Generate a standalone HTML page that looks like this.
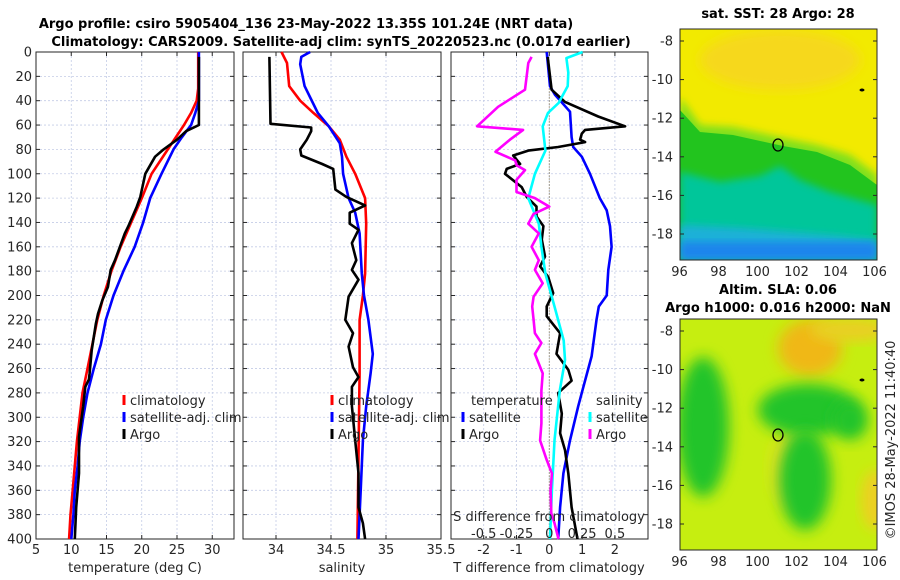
<!DOCTYPE html>
<html><head><meta charset="utf-8">
<style>
html,body{margin:0;padding:0;background:#fff;}
svg{display:block;font-family:"DejaVu Sans","Liberation Sans",sans-serif;}
.t{font-size:13px;fill:#262626;}
.b{font-size:13px;font-weight:bold;fill:#000;}
</style></head>
<body>
<svg id="fig" width="900" height="580" viewBox="0 0 900 580" xmlns="http://www.w3.org/2000/svg">
<defs>
<filter id="blur" x="-20%" y="-20%" width="140%" height="140%"><feGaussianBlur stdDeviation="6"/></filter>
<filter id="blur2" x="-20%" y="-20%" width="140%" height="140%"><feGaussianBlur stdDeviation="4"/></filter>
<filter id="blur3" x="-30%" y="-30%" width="160%" height="160%"><feGaussianBlur stdDeviation="7"/></filter>
<clipPath id="clipTop"><rect x="680" y="29" width="197" height="231"/></clipPath>
<clipPath id="clipBot"><rect x="680" y="319" width="197" height="231"/></clipPath>
</defs>
<text class="b" x="306" y="28" text-anchor="middle">Argo profile: csiro 5905404_136 23-May-2022 13.35S 101.24E (NRT data)</text>
<text class="b" x="341" y="46" text-anchor="middle">Climatology: CARS2009. Satellite-adj clim: synTS_20220523.nc (0.017d earlier)</text>

<!-- SST map -->
<g clip-path="url(#clipTop)">
<rect x="680" y="29" width="197" height="231" fill="#f2ea00"/>
<ellipse cx="780" cy="60" rx="80" ry="30" fill="#f6d81a" filter="url(#blur)"/>
<path d="M680 97 L700 125 L733 127 L783 138 L817 145 L850 155 L877 175 L877 260 L680 260 Z" fill="#7ee01a" filter="url(#blur2)"/>
<path d="M680 110 L700 132 L733 135 L783 146 L817 152 L850 165 L877 185 L877 260 L680 260 Z" fill="#22c41e"/>
<path d="M680 172 L720 182 L760 176 L780 166 L800 180 L830 192 L877 205 L877 260 L680 260 Z" fill="#06c69a" filter="url(#blur2)"/>
<path d="M680 225 L740 228 L790 232 L840 236 L877 240 L877 260 L680 260 Z" fill="#1ab0d8" filter="url(#blur2)"/>
<rect x="680" y="242" width="197" height="18" fill="#1c7ef0" opacity="0.85" filter="url(#blur2)"/>
<ellipse cx="778" cy="145" rx="5" ry="6" fill="none" stroke="#000" stroke-width="1.3"/>
<ellipse cx="862" cy="90" rx="2.5" ry="1.5" fill="#000"/>
</g>
<rect x="680" y="29" width="197" height="231" fill="none" stroke="#262626" stroke-width="1"/>
<text class="b" x="778" y="18" text-anchor="middle">sat. SST: 28 Argo: 28</text>

<!-- SLA map -->
<g clip-path="url(#clipBot)">
<rect x="680" y="319" width="197" height="231" fill="#c6ee10"/>
<ellipse cx="810" cy="348" rx="32" ry="28" fill="#f0b818" filter="url(#blur3)"/>
<ellipse cx="850" cy="330" rx="40" ry="12" fill="#e8d020" filter="url(#blur)"/>
<ellipse cx="875" cy="500" rx="14" ry="30" fill="#ecd020" filter="url(#blur)"/>
<ellipse cx="790" cy="470" rx="20" ry="40" fill="#e6e020" filter="url(#blur)"/>
<ellipse cx="703" cy="427" rx="26" ry="70" fill="#22c42c" filter="url(#blur3)"/>
<ellipse cx="808" cy="410" rx="50" ry="26" fill="#22c42c" filter="url(#blur3)"/>
<ellipse cx="805" cy="480" rx="26" ry="50" fill="#22c42c" filter="url(#blur3)"/>
<ellipse cx="850" cy="420" rx="18" ry="20" fill="#22c42c" filter="url(#blur3)"/>
<ellipse cx="778" cy="435" rx="5" ry="6" fill="none" stroke="#000" stroke-width="1.3"/>
<ellipse cx="862" cy="380" rx="2.5" ry="1.5" fill="#000"/>
</g>
<rect x="680" y="319" width="197" height="231" fill="none" stroke="#262626" stroke-width="1"/>
<text class="b" x="778" y="294" text-anchor="middle">Altim. SLA: 0.06</text>
<text class="b" x="778" y="312" text-anchor="middle">Argo h1000: 0.016 h2000: NaN</text>
<text class="t" x="0" y="0" transform="translate(895,440) rotate(-90)" text-anchor="middle">©IMOS 28-May-2022 11:40:40</text>

<g id="dyn"></g>
</svg>
<script>
// ---- data ----
const depthTicks=[0,20,40,60,80,100,120,140,160,180,200,220,240,260,280,300,320,340,360,380,400];
const tTicks=[5,10,15,20,25,30];
const sTicks=[34,34.5,35,35.5];
const tdTicks=[-2,-1,0,1,2];
const sdTicks=[-0.5,-0.25,0,0.25,0.5];
const sdTickLabels=["-0.5","-0.25","0","0.25","0.5"];
const latTicks=[-8,-10,-12,-14,-16,-18];
const lonTicks=[96,98,100,102,104,106];

const climTDepth=[0,30,40,50,60,80,100,120,140,160,180,200,220,240,260,280,300,320,340,360,380,400];
const climT=[28.0,28.0,27.8,27.0,26.0,23.7,21.4,20.0,18.5,17.0,15.7,14.6,13.7,13.0,12.3,11.6,11.2,10.8,10.5,10.2,9.9,9.7];
const satTDepth=[0,40,50,60,70,80,100,120,140,160,180,200,220,240,260,280,300,320,340,360,380,400];
const satT=[28.1,28.1,27.6,27.0,25.7,24.5,22.8,21.2,20.2,19.0,17.4,16.0,14.9,14.2,13.2,12.3,11.7,11.2,10.9,10.5,10.3,10.0];
const argoTDepth=[4,40,60,65,72,80,86,93,100,119,127,143,149,160,171,179,193,204,215,223,245,264,269,275,291,316,346,374,400];
const argoT=[28.1,28.1,28.1,26.3,25.0,23.1,21.9,21.2,20.5,19.8,19.3,18.1,17.6,16.9,16.2,15.6,15.2,14.4,13.8,13.5,12.9,12.6,12.5,12.0,11.7,11.1,11.1,10.7,10.5];

const climSDepth=[0,9,28,40,50,61,72,86,100,120,141,182,200,220,264,400];
const climS=[34.05,34.10,34.12,34.22,34.34,34.48,34.58,34.64,34.72,34.81,34.82,34.81,34.79,34.76,34.76,34.74];
const satSDepth=[0,4,10,28,39,50,61,75,86,100,120,132,149,182,200,220,248,264,291,319,360,400];
const satS=[34.31,34.23,34.22,34.26,34.32,34.38,34.48,34.58,34.60,34.61,34.66,34.72,34.76,34.78,34.80,34.84,34.88,34.86,34.82,34.79,34.77,34.75];
const argoSDepth=[4,59,62,65,72,80,85,92,96,113,119,126,132,141,146,157,171,179,187,201,220,231,242,259,267,275,291,319,346,374,387,400];
const argoS=[33.94,33.95,34.32,34.32,34.28,34.22,34.23,34.42,34.52,34.54,34.64,34.81,34.67,34.67,34.75,34.69,34.73,34.69,34.75,34.66,34.63,34.70,34.66,34.70,34.75,34.69,34.69,34.72,34.75,34.75,34.79,34.81];

const satTdDepth=[0,28,35,49,70,78,86,100,120,130,143,160,179,200,209,220,250,275,291,319,346,374,400];
const satTd=[-0.08,0.02,0.17,0.63,0.68,0.73,0.99,1.24,1.54,1.75,1.85,1.90,1.80,1.75,1.51,1.44,1.29,1.04,0.88,0.63,0.43,0.33,0.27];
const argoTdDepth=[4,31,41,53,61,64,67,72,74,78,81,85,92,96,100,111,119,127,135,143,154,168,176,185,198,209,217,231,248,261,270,280,297,313,327,346,374,400];
const argoTd=[-0.05,0.07,0.48,1.49,2.31,1.09,0.99,0.94,1.09,0.27,-0.64,-1.1,-0.89,-1.3,-1.35,-0.84,-0.69,-0.39,-0.39,-0.18,-0.23,-0.13,-0.28,-0.03,0.12,-0.08,-0.08,0.33,0.22,0.58,0.68,0.27,0.38,0.33,0.48,0.58,0.68,0.86];
const satSdDepth=[0,5,17,28,42,50,61,81,100,120,141,160,182,209,237,253,278,319,360,400];
const satSd=[0.254,0.13,0.145,0.14,0.07,-0.01,-0.05,-0.03,-0.11,-0.16,-0.08,-0.06,-0.03,0.04,0.11,0.12,0.08,0.04,0.02,0.005];
const argoSdDepth=[4,9,31,45,61,64,72,82,89,93,97,105,115,120,127,133,141,149,160,171,179,190,201,209,220,231,239,248,264,278,291,305,319,335,346,360,379,387,400];
const argoSd=[-0.135,-0.16,-0.185,-0.39,-0.55,-0.2,-0.30,-0.41,-0.26,-0.25,-0.185,-0.25,-0.25,-0.11,0,-0.12,-0.16,-0.08,-0.135,-0.08,-0.11,-0.05,-0.12,-0.13,-0.12,-0.11,-0.06,-0.11,-0.05,-0.06,-0.06,-0.06,-0.07,-0.02,0.02,0.01,0.015,0.04,0.07];

// ---- geometry ----
const TOP=52, BOT=539;
const P1={l:36,r:234}, P2={l:243,r:441}, P3={l:451,r:648};
const yD=d=>TOP+(d/400)*(BOT-TOP);
const xT=v=>P1.l+(v-5)*7.05;
const xS=v=>276+(v-34)*110;
const xTd=v=>549.3+v*32.8;
const xSd=v=>549.3+v*4*32.8;
const xLon=v=>679.5+(v-96)*19.5;
const yLatTop=v=>41+(-8-v)*19.3;
const yLatBot=v=>331+(-8-v)*19.3;

const NS="http://www.w3.org/2000/svg";
const root=document.getElementById('dyn');
function mk(tag,attrs,parent){const e=document.createElementNS(NS,tag);for(const k in attrs)e.setAttribute(k,attrs[k]);(parent||root).appendChild(e);return e;}
function txt(x,y,s,anchor,cls,parent){const e=mk('text',{x:x,y:y,'text-anchor':anchor||'middle','class':cls||'t'},parent);e.textContent=s;return e;}

function panel(P,name,xTicks,xf,labels,showY){
  const g=mk('g',{});
  
  
  xTicks.forEach(v=>{const x=xf(v);if(x>P.l+1&&x<P.r-1)mk('line',{x1:x,x2:x,y1:TOP,y2:BOT,stroke:'#c4cce6','stroke-width':0.8,'stroke-dasharray':'2,2'},g);});
  depthTicks.forEach(d=>{const y=yD(d);if(d>0&&d<400)mk('line',{x1:P.l,x2:P.r,y1:y,y2:y,stroke:'#c4cce6','stroke-width':0.8,'stroke-dasharray':'2,2'},g);});
  depthTicks.forEach(d=>{const y=yD(d);mk('line',{x1:P.l,x2:P.l+4,y1:y,y2:y,stroke:'#262626'},g);mk('line',{x1:P.r,x2:P.r-4,y1:y,y2:y,stroke:'#262626'},g);
    if(showY){txt(P.l-4,y+4.5,String(d),'end','t',g);}});
  xTicks.forEach((v,i)=>{const x=xf(v);mk('line',{x1:x,x2:x,y1:BOT,y2:BOT-4,stroke:'#262626'},g);mk('line',{x1:x,x2:x,y1:TOP,y2:TOP+4,stroke:'#262626'},g);
    if(labels[i])txt(x,554,labels[i],'middle','t',g);});
  mk('rect',{x:P.l,y:TOP,width:P.r-P.l,height:BOT-TOP,fill:'none',stroke:'#262626','stroke-width':1},g);
  return g;
}
function line(g,depths,vals,xf,color,name){
  const pts=depths.map((d,i)=>xf(vals[i]).toFixed(1)+','+yD(d).toFixed(1)).join(' ');
  const p=mk('polyline',{points:pts,fill:'none',stroke:color,'stroke-width':2.6,'stroke-linejoin':'round'},g);
  
  
}
function legendItem(g,x,y,color,label,name){
  const it=mk('g',{},g);
  
  
  mk('line',{x1:x,x2:x,y1:y-10,y2:y,stroke:color,'stroke-width':3},it);
  txt(x+6,y,label,'start','t',it);
}

// panel 1
const g1=panel(P1,'temperature-panel',tTicks,xT,["5","10","15","20","25","30"],true);
line(g1,climTDepth,climT,xT,'#ff0000','climatology-temperature-line');
line(g1,satTDepth,satT,xT,'#0000ff','satellite-temperature-line');
line(g1,argoTDepth,argoT,xT,'#000000','argo-temperature-line');
const lt1=txt(135,572,'temperature (deg C)','middle','t');


legendItem(g1,124,405,'#ff0000','climatology','legend-climatology');
legendItem(g1,124,422,'#0000ff','satellite-adj. clim','legend-satellite-adj');
legendItem(g1,124,439,'#000000','Argo','legend-argo');

// panel 2
const g2=panel(P2,'salinity-panel',sTicks,xS,["34","34.5","35","35.5"],false);
line(g2,climSDepth,climS,xS,'#ff0000','climatology-salinity-line');
line(g2,satSDepth,satS,xS,'#0000ff','satellite-salinity-line');
line(g2,argoSDepth,argoS,xS,'#000000','argo-salinity-line');
const lt2=txt(342,572,'salinity','middle','t');


legendItem(g2,332,405,'#ff0000','climatology','legend-climatology-2');
legendItem(g2,332,422,'#0000ff','satellite-adj. clim','legend-satellite-adj-2');
legendItem(g2,332,439,'#000000','Argo','legend-argo-2');

// panel 3
const g3=panel(P3,'difference-panel',tdTicks,xTd,["-2","-1","0","1","2"],false);
mk('line',{x1:xTd(0),x2:xTd(0),y1:yD(25),y2:BOT,stroke:'#6a5a30','stroke-width':1,'stroke-dasharray':'1,2'},g3);
line(g3,satTdDepth,satTd,xTd,'#0000ff','satellite-temperature-diff-line');
line(g3,argoTdDepth,argoTd,xTd,'#000000','argo-temperature-diff-line');
line(g3,satSdDepth,satSd,xSd,'#00ffff','satellite-salinity-diff-line');
line(g3,argoSdDepth,argoSd,xSd,'#ff00ff','argo-salinity-diff-line');
const lt3=txt(549,572,'T difference from climatology','middle','t');


const ls=txt(549,521,'S difference from climatology','middle','t',g3);


sdTicks.forEach((v,i)=>{txt(xSd(v),538,sdTickLabels[i],'middle','t',g3);});
txt(471,405,'temperature','start','t',g3);
txt(596,405,'salinity','start','t',g3);
legendItem(g3,463,422,'#0000ff','satellite','legend-temp-satellite');
legendItem(g3,463,439,'#000000','Argo','legend-temp-argo');
legendItem(g3,590,422,'#00ffff','satellite','legend-sal-satellite');
legendItem(g3,590,439,'#ff00ff','Argo','legend-sal-argo');

// map axes
function mapAxes(yf,yLab,name){
  const g=mk('g',{});
  
  
  latTicks.forEach(v=>{const y=yf(v);mk('line',{x1:680,x2:684,y1:y,y2:y,stroke:'#262626'},g);mk('line',{x1:877,x2:873,y1:y,y2:y,stroke:'#262626'},g);txt(673,y+4.5,String(v),'end','t',g);});
  lonTicks.forEach(v=>{const x=xLon(v);txt(x,yLab,String(v),'middle','t',g);});
}
mapAxes(yLatTop,276,'sst-map-axes');
mapAxes(yLatBot,566,'sla-map-axes');
</script>
</body></html>
